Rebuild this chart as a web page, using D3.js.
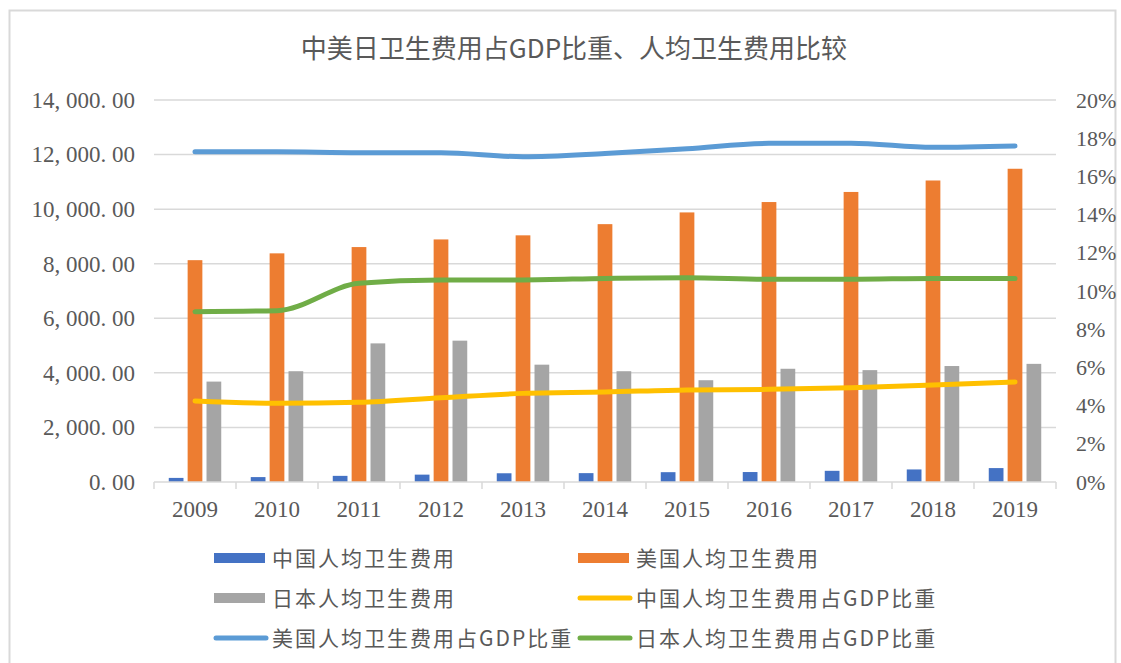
<!DOCTYPE html>
<html>
<head>
<meta charset="utf-8">
<script src="https://cdn.jsdelivr.net/npm/d3@7/dist/d3.min.js"></script>
<style>
  body { margin: 0; background: #fff; }
  svg { display: block; }
</style>
</head>
<body>
<svg id="chart" width="1121" height="663"></svg>
<script>
'use strict';

// data
const years = ['2009', '2010', '2011', '2012', '2013', '2014', '2015', '2016', '2017', '2018', '2019'];
const chinaPerCapita = [150, 180, 225, 270, 320, 325, 360, 365, 410, 460, 510];
const usPerCapita = [8130, 8380, 8610, 8890, 9040, 9450, 9880, 10260, 10630, 11050, 11480];
const japanPerCapita = [3680, 4060, 5080, 5180, 4300, 4060, 3730, 4150, 4100, 4250, 4330];
const chinaShare = [0.0424, 0.0412, 0.0417, 0.0441, 0.0464, 0.0471, 0.0482, 0.0485, 0.0494, 0.0508, 0.0524];
const usShare = [0.1729, 0.1729, 0.1724, 0.1724, 0.1703, 0.1720, 0.1745, 0.1773, 0.1773, 0.1752, 0.1759];
const japanShare = [0.0892, 0.0897, 0.1040, 0.1058, 0.1058, 0.1066, 0.1070, 0.1061, 0.1061, 0.1066, 0.1066];
const leftTicks = [0, 2000, 4000, 6000, 8000, 10000, 12000, 14000];
const rightTicks = [0, 0.02, 0.04, 0.06, 0.08, 0.1, 0.12, 0.14, 0.16, 0.18, 0.2];

const barSeries = [
  { name: '中国人均卫生费用', values: chinaPerCapita, color: '#4472C4' },
  { name: '美国人均卫生费用', values: usPerCapita, color: '#ED7D31' },
  { name: '日本人均卫生费用', values: japanPerCapita, color: '#A5A5A5' },
];
const lineSeries = [
  { name: '中国人均卫生费用占GDP比重', values: chinaShare, color: '#FFC000' },
  { name: '美国人均卫生费用占GDP比重', values: usShare, color: '#5B9BD5' },
  { name: '日本人均卫生费用占GDP比重', values: japanShare, color: '#70AD47' },
];

const textColor = '#595959';
const gridColor = '#d9d9d9';
const cjkFont = '"Noto Sans CJK SC", sans-serif';
const numFont = '"Liberation Serif", serif';

const svg = d3.select('#chart');

// chart frame
svg.append('rect')
  .attr('x', 9.5).attr('y', 10.5)
  .attr('width', 1106).attr('height', 670)
  .attr('fill', 'none')
  .attr('stroke', gridColor)
  .attr('stroke-width', 2);

// title
svg.append('text')
  .attr('x', 574).attr('y', 58)
  .attr('text-anchor', 'middle')
  .style('font-family', cjkFont)
  .style('font-size', '26px')
  .attr('fill', textColor)
  .text('中美日卫生费用占GDP比重、人均卫生费用比较');

const plot = { left: 154, right: 1056, top: 100, bottom: 482 };

const x = d3.scaleBand().domain(years).range([plot.left, plot.right]);
const inner = d3.scaleBand()
  .domain(barSeries.map(s => s.name))
  .range([x.bandwidth() * 0.18, x.bandwidth() * 0.82])
  .paddingInner(0.22);
const yLeft = d3.scaleLinear().domain([0, 14000]).range([plot.bottom, plot.top]);
const yRight = d3.scaleLinear().domain([0, 0.2]).range([plot.bottom, plot.top]);

// gridlines
svg.append('g')
  .selectAll('line')
  .data(leftTicks.filter(d => d > 0))
  .enter()
  .append('line')
  .attr('x1', plot.left).attr('x2', plot.right)
  .attr('y1', d => yLeft(d)).attr('y2', d => yLeft(d))
  .attr('stroke', gridColor)
  .attr('stroke-width', 1.5);

// left axis labels
const fmtLeft = v => d3.format(',.2f')(v).replace(/,/g, ', ').replace('.', '. ');
const leftAxis = svg.append('g')
  .attr('transform', 'translate(' + plot.left + ',0)')
  .call(d3.axisLeft(yLeft).tickValues(leftTicks).tickSize(0).tickPadding(19).tickFormat(fmtLeft));
leftAxis.select('.domain').remove();
leftAxis.selectAll('text')
  .style('font-family', numFont)
  .style('font-size', '23px')
  .attr('fill', textColor);

// right axis labels
const rightAxis = svg.append('g')
  .attr('transform', 'translate(' + plot.right + ',0)')
  .call(d3.axisRight(yRight).tickValues(rightTicks).tickSize(0).tickPadding(20).tickFormat(d3.format('.0%')));
rightAxis.select('.domain').remove();
rightAxis.selectAll('text')
  .style('font-family', numFont)
  .style('font-size', '22px')
  .attr('fill', textColor);

// bars
barSeries.forEach(s => {
  svg.append('g')
    .selectAll('rect')
    .data(s.values)
    .enter()
    .append('rect')
    .attr('x', (d, i) => x(years[i]) + inner(s.name))
    .attr('y', d => yLeft(d))
    .attr('width', inner.bandwidth())
    .attr('height', d => plot.bottom - yLeft(d))
    .attr('fill', s.color);
});

// category axis with boundary ticks
const bottomAxis = svg.append('g');
bottomAxis.append('line')
  .attr('x1', plot.left).attr('x2', plot.right)
  .attr('y1', plot.bottom).attr('y2', plot.bottom)
  .attr('stroke', gridColor)
  .attr('stroke-width', 1.5);
bottomAxis.selectAll('.tick-mark')
  .data(years.concat(['end']))
  .enter()
  .append('line')
  .attr('x1', (d, i) => plot.left + i * x.step())
  .attr('x2', (d, i) => plot.left + i * x.step())
  .attr('y1', plot.bottom).attr('y2', plot.bottom + 7)
  .attr('stroke', gridColor)
  .attr('stroke-width', 1.5);
bottomAxis.selectAll('.year')
  .data(years)
  .enter()
  .append('text')
  .attr('x', d => x(d) + x.bandwidth() / 2)
  .attr('y', 517)
  .attr('text-anchor', 'middle')
  .style('font-family', numFont)
  .style('font-size', '23px')
  .attr('fill', textColor)
  .text(d => d);

// lines on the right axis
const lineGen = d3.line()
  .x((d, i) => x(years[i]) + x.bandwidth() / 2)
  .y(d => yRight(d))
  .curve(d3.curveMonotoneX);

lineSeries.forEach(s => {
  svg.append('path')
    .datum(s.values)
    .attr('d', lineGen)
    .attr('fill', 'none')
    .attr('stroke', s.color)
    .attr('stroke-width', 5)
    .attr('stroke-linecap', 'round')
    .attr('stroke-linejoin', 'round');
});

// legend
const legendItems = [
  { s: barSeries[0], type: 'bar', col: 0, row: 0 },
  { s: barSeries[1], type: 'bar', col: 1, row: 0 },
  { s: barSeries[2], type: 'bar', col: 0, row: 1 },
  { s: lineSeries[0], type: 'line', col: 1, row: 1 },
  { s: lineSeries[1], type: 'line', col: 0, row: 2 },
  { s: lineSeries[2], type: 'line', col: 1, row: 2 },
];
const colX = [214, 578];
const rowY = [558, 598, 638];

const legend = svg.append('g');
legendItems.forEach(item => {
  const g = legend.append('g')
    .attr('transform', 'translate(' + colX[item.col] + ',' + rowY[item.row] + ')');
  if (item.type === 'bar') {
    g.append('rect')
      .attr('x', 0).attr('y', -5)
      .attr('width', 51).attr('height', 10)
      .attr('fill', item.s.color);
  } else {
    g.append('line')
      .attr('x1', 2).attr('x2', 52)
      .attr('y1', 0).attr('y2', 0)
      .attr('stroke', item.s.color)
      .attr('stroke-width', 5)
      .attr('stroke-linecap', 'round');
  }
  g.append('text')
    .attr('x', 58).attr('y', 0)
    .attr('dy', '0.36em')
    .style('font-family', cjkFont)
    .style('font-size', '21px')
    .style('letter-spacing', '2px')
    .attr('fill', textColor)
    .text(item.s.name);
});
</script>
</body>
</html>
